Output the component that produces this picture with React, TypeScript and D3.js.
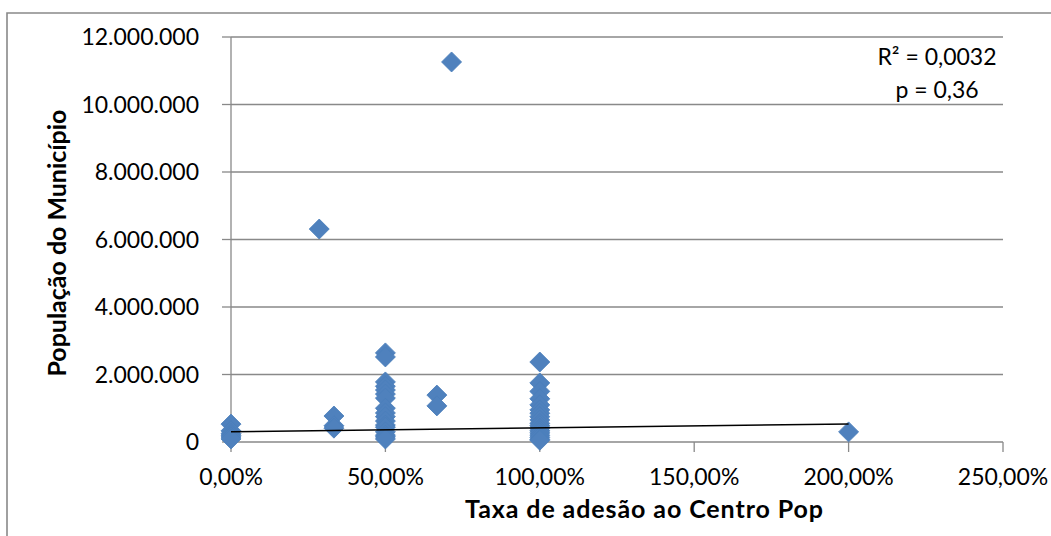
import React from "react";
import * as d3 from "d3";

// ---- data ----
const rateCategories: number[] = [0, 2 / 7, 1 / 3, 0.5, 2 / 3, 5 / 7, 1, 2];
const populationByRate: number[][] = [
  [530000, 330000, 250000, 200000, 150000, 90000],
  [6310000],
  [770000, 480000, 410000],
  [2640000, 2520000, 1780000, 1650000, 1540000, 1420000, 1300000, 1000000, 860000, 750000, 620000, 500000, 440000, 300000, 200000, 150000, 90000],
  [1390000, 1070000],
  [11260000],
  [2370000, 1750000, 1500000, 1280000, 1100000, 950000, 850000, 750000, 650000, 550000, 480000, 400000, 330000, 270000, 200000, 140000, 80000, 50000],
  [300000],
];
const trendX: number[] = [0, 2];
const trendY: number[] = [305000, 533000];
const xTicks: number[] = [0, 0.5, 1, 1.5, 2, 2.5];
const yTicks: number[] = [0, 2000000, 4000000, 6000000, 8000000, 10000000, 12000000];
const statLines: string[] = ["R² = 0,0032", "p = 0,36"];
const xTitle = "Taxa de adesão ao Centro Pop";
const yTitle = "População do Município";

const FONT = "Lato, 'Open Sans', sans-serif";

export default function App() {
  const W = 1051, H = 536;
  const x = d3.scaleLinear().domain([0, 2.5]).range([231, 1003]);
  const y = d3.scaleLinear().domain([0, 12000000]).range([442, 37]);

  const points = rateCategories.flatMap((r, i) => populationByRate[i].map((p) => ({ r, p })));
  const diamond = d3.symbol().type(d3.symbolSquare).size(200)() as string;
  const line = d3.line<number>().x((_, i) => x(trendX[i])).y((d) => y(d))(trendY) as string;

  const fmtPct = (v: number) => (v * 100).toFixed(2).replace(".", ",") + "%";
  const fmtNum = (v: number) => d3.format(",")(v).replace(/,/g, ".");

  const grid = "#898989";
  const [x0, x1] = x.range();
  const [yb, yt] = y.range();

  return (
    <div style={{ position: "absolute", left: 0, top: 0 }}>
      <svg width={W} height={H} style={{ display: "block", background: "#fff" }}>
        {/* chart border */}
        <path d={`M7,${H + 2}V13H${W + 2}`} fill="none" stroke={grid} strokeWidth={1.6} />
        {/* gridlines */}
        {yTicks.filter((t) => t > 0).map((t) => (
          <line key={t} x1={x0} x2={x1} y1={y(t)} y2={y(t)} stroke={grid} strokeWidth={1.3} />
        ))}
        {/* y axis */}
        <line x1={x0} x2={x0} y1={yb} y2={yt} stroke={grid} strokeWidth={1.3} />
        {yTicks.map((t) => (
          <g key={"yt" + t}>
            <line x1={222} x2={x0} y1={y(t)} y2={y(t)} stroke={grid} strokeWidth={1.3} />
            <text x={199} y={y(t)} dy="0.36em" textAnchor="end" fontFamily={FONT} fontSize={23} fill="#000">
              {fmtNum(t)}
            </text>
          </g>
        ))}
        {/* x axis */}
        <line x1={x0} x2={x1} y1={yb} y2={yb} stroke={grid} strokeWidth={1.3} />
        {xTicks.map((t) => (
          <g key={"xt" + t}>
            <line x1={x(t)} x2={x(t)} y1={yb} y2={yb + 10} stroke={grid} strokeWidth={1.3} />
            <text x={x(t)} y={485} textAnchor="middle" fontFamily={FONT} fontSize={23} fill="#000">
              {fmtPct(t)}
            </text>
          </g>
        ))}
        {/* points */}
        {points.map((d, i) => (
          <path
            key={i}
            d={diamond}
            transform={`translate(${x(d.r)},${y(d.p)}) rotate(45)`}
            fill="#4F81BD"
            stroke="#4A7EBB"
            strokeWidth={0.8}
          />
        ))}
        {/* trend line */}
        <path d={line} fill="none" stroke="#000" strokeWidth={1.5} />
        {/* stats */}
        {statLines.map((s, i) => (
          <text key={s} x={937} y={65 + i * 33} textAnchor="middle" fontFamily={FONT} fontSize={23} fill="#000">
            {s}
          </text>
        ))}
        {/* axis titles */}
        <text
          x={644}
          y={518}
          textAnchor="middle"
          fontFamily={FONT}
          fontSize={25}
          fontWeight="bold"
          fill="#000"
          textLength={358}
          lengthAdjust="spacing"
        >
          {xTitle}
        </text>
        <text
          transform={`translate(66,243) rotate(-90)`}
          textAnchor="middle"
          fontFamily={FONT}
          fontSize={25}
          fontWeight="bold"
          fill="#000"
          textLength={267}
          lengthAdjust="spacing"
        >
          {yTitle}
        </text>
      </svg>
    </div>
  );
}
